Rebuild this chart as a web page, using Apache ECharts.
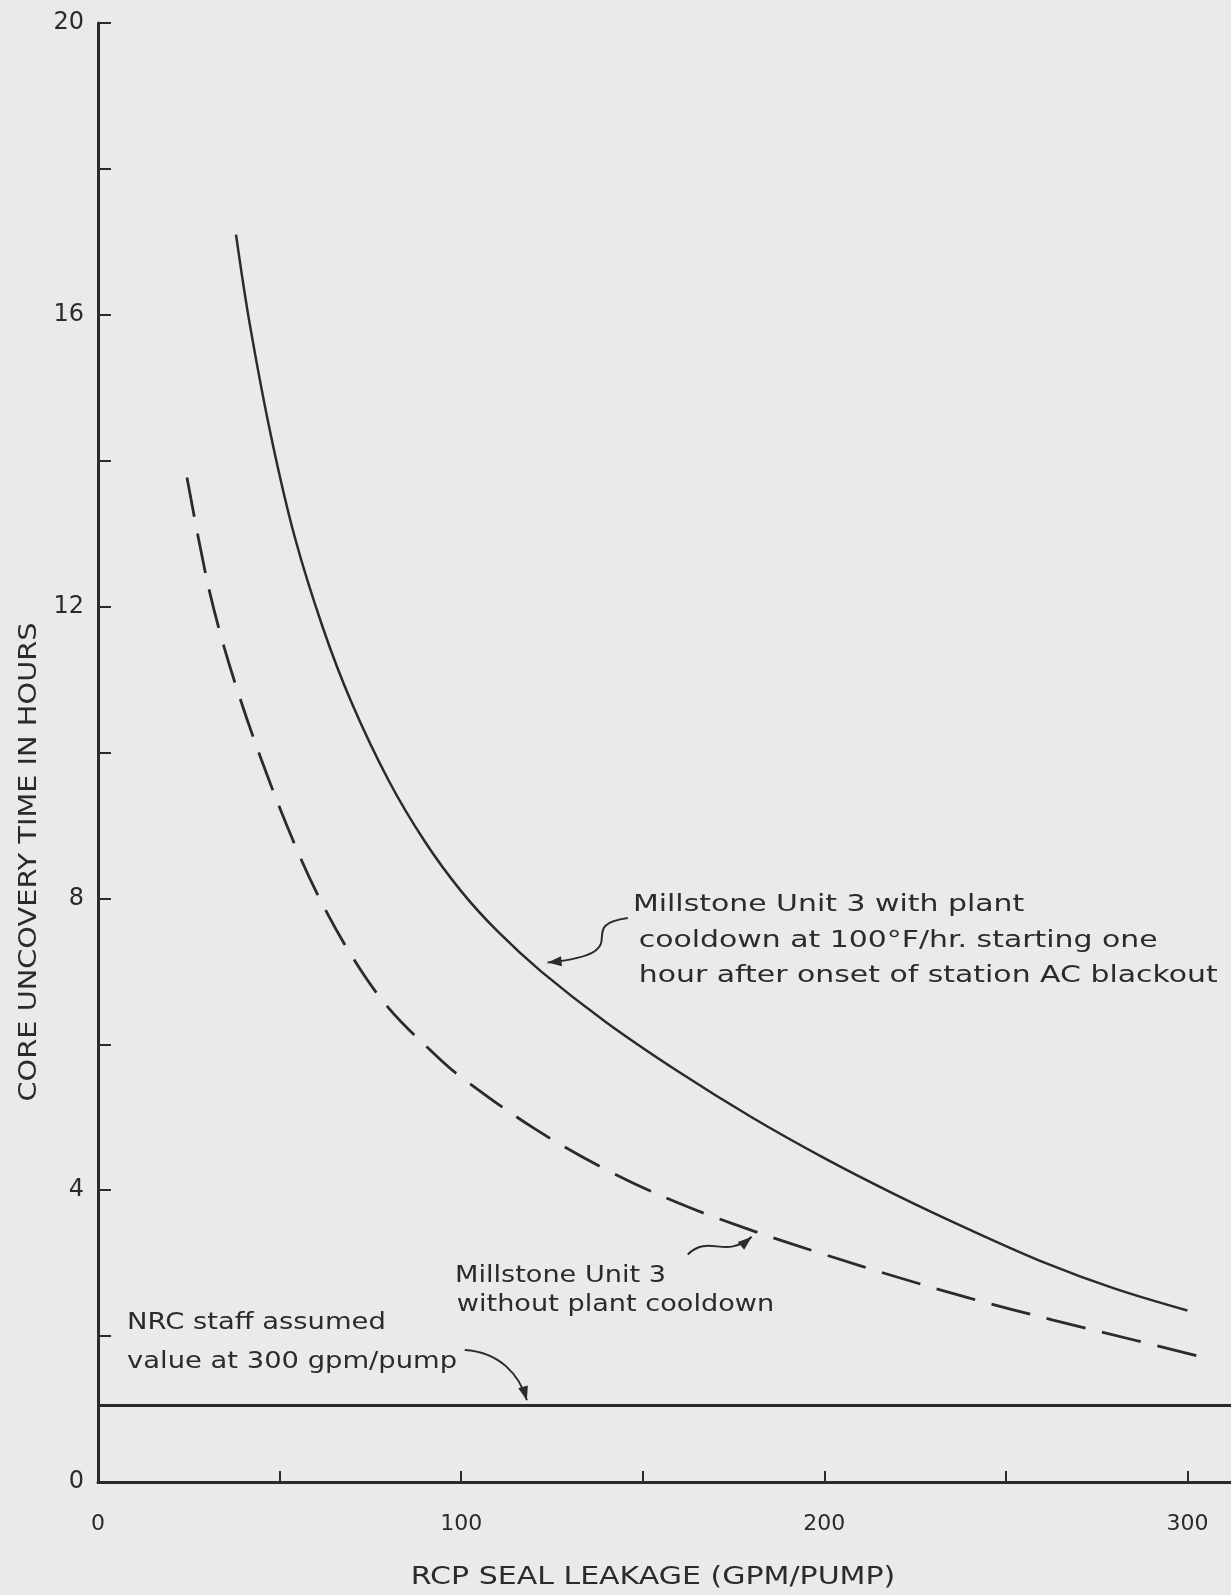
<!DOCTYPE html>
<html>
<head>
<meta charset="utf-8">
<title>Core uncovery time vs RCP seal leakage</title>
<script src="https://cdn.jsdelivr.net/npm/echarts@6.0.0/dist/echarts.min.js"></script>
<style>
  html, body { margin: 0; padding: 0; background: #eaeaea; }
  #main { width: 1231px; height: 1595px; }
</style>
</head>
<body>
<div id="main"></div>
<script type="text/javascript">
// RCP seal leakage (gpm/pump) -> core uncovery time (hours)
var coolLeak = [38, 41.7, 47.6, 54.2, 62, 69.7, 80, 90, 100, 110, 122, 140, 160, 180, 200, 220, 240, 261, 280, 300];
var coolHours = [17.1, 15.9, 14.35, 12.95, 11.7, 10.7, 9.62, 8.78, 8.1, 7.55, 7.0, 6.3, 5.62, 5.0, 4.44, 3.93, 3.46, 3.0, 2.65, 2.35];

var noCoolLeak = [24.5, 29.8, 33.9, 39, 45, 52, 60, 70, 80, 93, 100, 120, 140, 160, 180, 200, 220, 240, 263, 285, 305];
var noCoolHours = [13.77, 12.41, 11.59, 10.76, 9.9, 9.0, 8.1, 7.2, 6.5, 5.85, 5.55, 4.85, 4.28, 3.82, 3.45, 3.12, 2.81, 2.52, 2.22, 1.95, 1.7];

// NRC staff assumed value
var nrcLeak = [0, 312];
var nrcHours = [1.05, 1.05];

var xTicks = [0, 50, 100, 150, 200, 250, 300];
var xLabels = [0, 100, 200, 300];
var yTicks = [0, 2, 4, 6, 8, 10, 12, 14, 16, 18, 20];
var yLabels = [0, 4, 8, 12, 16, 20];

function pairs(xs, ys) {
    return xs.map(function (x, i) { return [x, ys[i]]; });
}

var ink = '#2b2b2b';
var font = 'DejaVu Sans';

var chart = echarts.init(document.getElementById('main'), null, { renderer: 'canvas' });

var option = {
    backgroundColor: '#eaeaea',
    animation: false,
    grid: { left: 98, right: 0, top: 23, bottom: 113, containLabel: false, outerBoundsMode: 'none' },
    xAxis: {
        type: 'value',
        min: 0,
        max: 312,
        axisLine: { lineStyle: { color: ink, width: 3 } },
        axisTick: { inside: true, length: 11, customValues: xTicks, lineStyle: { color: ink, width: 2 } },
        axisLabel: { customValues: xLabels, margin: 31, fontFamily: font, fontSize: 22, color: ink },
        splitLine: { show: false }
    },
    yAxis: {
        type: 'value',
        min: 0,
        max: 20,
        axisLine: { lineStyle: { color: ink, width: 3 } },
        axisTick: { inside: true, length: 13, customValues: yTicks, lineStyle: { color: ink, width: 2 } },
        axisLabel: { customValues: yLabels, margin: 14, fontFamily: font, fontSize: 24, color: ink },
        splitLine: { show: false }
    },
    series: [{
        name: 'with plant cooldown',
        type: 'line',
        data: pairs(coolLeak, coolHours),
        smooth: 0.35,
        showSymbol: false,
        lineStyle: { color: ink, width: 2.5 }
    }, {
        name: 'without plant cooldown',
        type: 'line',
        data: pairs(noCoolLeak, noCoolHours),
        smooth: 0.35,
        showSymbol: false,
        lineStyle: { color: ink, width: 2.8, type: [40, 17] }
    }, {
        name: 'NRC staff assumed value',
        type: 'line',
        data: pairs(nrcLeak, nrcHours),
        showSymbol: false,
        lineStyle: { color: ink, width: 3 }
    }]
};

chart.setOption(option);

// annotation texts, anchored in data coordinates (left edge, middle of line)
// stretch widens the lettering to the spacing of the original stencil text
var notes = [
    { at: [147.3, 7.91], text: 'Millstone Unit 3 with plant', stretch: 1.3 },
    { at: [148.9, 7.42], text: 'cooldown at 100°F/hr. starting one', stretch: 1.3 },
    { at: [148.9, 6.93], text: 'hour after onset of station AC blackout', stretch: 1.3 },
    { at: [98.3, 2.82], text: 'Millstone Unit 3', stretch: 1.18 },
    { at: [98.8, 2.43], text: 'without plant cooldown', stretch: 1.18 },
    { at: [8.0, 2.18], text: 'NRC staff assumed', stretch: 1.19 },
    { at: [8.0, 1.64], text: 'value at 300 gpm/pump', stretch: 1.19 }
];

// arrows: start, control 1, control 2, tip
var arrows = [
    [[145.9, 7.73], [130.0, 7.62], [150.0, 7.25], [123.8, 7.12]],
    [[162.4, 3.12], [168.4, 3.40], [172.6, 3.05], [180.0, 3.36]],
    [[101.0, 1.81], [110.6, 1.78], [116.1, 1.47], [118.1, 1.12]]
];

function px(p) {
    return chart.convertToPixel({ gridIndex: 0 }, p);
}

var graphics = [];

notes.forEach(function (n) {
    var p = px(n.at);
    graphics.push({
        type: 'text',
        x: p[0],
        y: p[1],
        scaleX: n.stretch,
        style: {
            text: n.text,
            fill: ink,
            font: '23px "' + font + '"',
            textAlign: 'left',
            textVerticalAlign: 'middle'
        }
    });
});

arrows.forEach(function (a) {
    var s = px(a[0]), c1 = px(a[1]), c2 = px(a[2]), t = px(a[3]);
    graphics.push({
        type: 'bezierCurve',
        shape: { x1: s[0], y1: s[1], cpx1: c1[0], cpy1: c1[1], cpx2: c2[0], cpy2: c2[1], x2: t[0], y2: t[1] },
        style: { stroke: ink, lineWidth: 2, fill: null }
    });
    var ang = Math.atan2(t[1] - c2[1], t[0] - c2[0]);
    var L = 14, W = 5;
    var bx = t[0] - L * Math.cos(ang), by = t[1] - L * Math.sin(ang);
    graphics.push({
        type: 'polygon',
        shape: {
            points: [
                [t[0], t[1]],
                [bx - W * Math.sin(ang), by + W * Math.cos(ang)],
                [bx + W * Math.sin(ang), by - W * Math.cos(ang)]
            ]
        },
        style: { fill: ink }
    });
});

// y axis title, reading upwards
graphics.push({
    type: 'text',
    x: 30,
    y: 862,
    rotation: Math.PI / 2,
    scaleX: 1.2,
    style: {
        text: 'CORE UNCOVERY TIME IN HOURS',
        fill: ink,
        font: '24px "' + font + '"',
        textAlign: 'center',
        textVerticalAlign: 'middle'
    }
});

// x axis title
graphics.push({
    type: 'text',
    x: 653,
    y: 1578,
    scaleX: 1.25,
    style: {
        text: 'RCP SEAL LEAKAGE (GPM/PUMP)',
        fill: ink,
        font: '24px "' + font + '"',
        textAlign: 'center',
        textVerticalAlign: 'middle'
    }
});

chart.setOption({ graphic: graphics });
</script>
</body>
</html>
